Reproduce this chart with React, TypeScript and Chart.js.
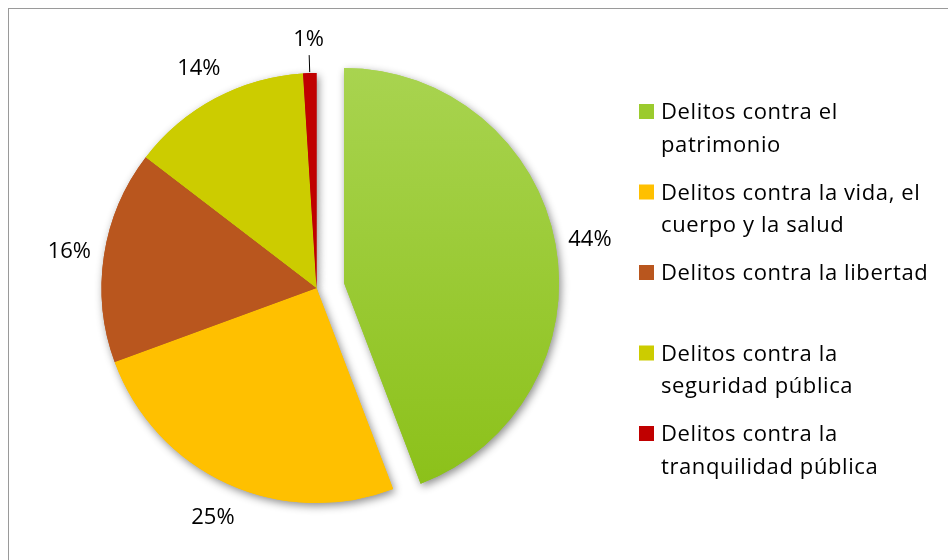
import React, { useEffect, useRef } from "react";
import { Chart, registerables } from "chart.js";

Chart.register(...registerables);

// ---- data ----
const categories: string[][] = [
  ["Delitos contra el", "patrimonio"],
  ["Delitos contra la vida, el", "cuerpo y la salud"],
  ["Delitos contra la libertad"],
  ["Delitos contra la", "seguridad pública"],
  ["Delitos contra la", "tranquilidad pública"],
];
const shares: number[] = [44.2, 25.2, 16.0, 13.6, 1.0];
const sliceColors: string[] = ["#9bcb2e", "#ffc000", "#b9561e", "#cccc00", "#c00000"];
const explodePx: number[] = [28, 0, 0, 0, 0];

const FONT = "22px 'Open Sans', 'Noto Sans', sans-serif";

const total = shares.reduce((a, b) => a + b, 0);

const piePlugin = {
  id: "explodedPie",
  beforeDatasetsDraw(chart: any) {
    const ctx: CanvasRenderingContext2D = chart.ctx;
    const meta = chart.getDatasetMeta(0);
    const drawAll = () => {
      meta.data.forEach((arc: any, i: number) => {
        ctx.save();
        const mid = (arc.startAngle + arc.endAngle) / 2;
        ctx.translate(Math.cos(mid) * explodePx[i], Math.sin(mid) * explodePx[i]);
        arc.draw(ctx);
        ctx.restore();
      });
    };
    // shadow pass
    ctx.save();
    ctx.shadowColor = "rgba(0,0,0,0.45)";
    ctx.shadowBlur = 9;
    ctx.shadowOffsetX = 2;
    ctx.shadowOffsetY = 3;
    drawAll();
    ctx.restore();
    // clean pass
    drawAll();
    return false;
  },
  afterDraw(chart: any) {
    const ctx: CanvasRenderingContext2D = chart.ctx;
    const meta = chart.getDatasetMeta(0);
    ctx.save();
    ctx.font = FONT;
    ctx.fillStyle = "#000";
    ctx.textAlign = "center";
    ctx.textBaseline = "alphabetic";
    meta.data.forEach((arc: any, i: number) => {
      const mid = (arc.startAngle + arc.endAngle) / 2;
      const cx = arc.x + Math.cos(mid) * explodePx[i];
      const cy = arc.y + Math.sin(mid) * explodePx[i];
      const r = arc.outerRadius;
      const d = r + 35;
      const lx = cx + Math.cos(mid) * d;
      const ly = cy + Math.sin(mid) * d;
      const pct = Math.round((shares[i] / total) * 100) + "%";
      ctx.fillText(pct, lx, ly + 8);
      if (shares[i] / total < 0.03) {
        ctx.beginPath();
        ctx.strokeStyle = "#000";
        ctx.lineWidth = 1;
        ctx.moveTo(cx + Math.cos(mid) * (r + 1), cy + Math.sin(mid) * (r + 1));
        ctx.lineTo(cx + Math.cos(mid) * (r + 18), cy + Math.sin(mid) * (r + 18));
        ctx.stroke();
      }
    });
    ctx.restore();

    // legend on the right
    ctx.save();
    ctx.font = FONT;
    ctx.textAlign = "left";
    ctx.textBaseline = "alphabetic";
    try {
      (ctx as any).letterSpacing = "0.6px";
    } catch (e) {}
    const boxX = 630;
    const textX = 652;
    const firstBaseline = 110;
    const pitch = 80.5;
    const lineH = 32.5;
    categories.forEach((lines, i) => {
      const base = firstBaseline + i * pitch;
      const bg = meta.data[i] ? meta.data[i].options.backgroundColor : sliceColors[i];
      ctx.fillStyle = i === 0 ? sliceColors[0] : bg;
      ctx.fillRect(boxX, base - 15, 15, 15);
      ctx.fillStyle = "#000";
      lines.forEach((ln, j) => {
        ctx.fillText(ln, textX, base + j * lineH);
      });
    });
    ctx.restore();
  },
};

export default function App() {
  const ref = useRef<HTMLCanvasElement | null>(null);
  useEffect(() => {
    if (!ref.current) return;
    const chart = new Chart(ref.current, {
      type: "pie",
      data: {
        labels: categories.map((c) => c.join(" ")),
        datasets: [
          {
            data: shares,
            backgroundColor: (c: any) => {
              const ch = c.chart;
              const area = ch.chartArea;
              if (c.dataIndex === 0 && area) {
                const cy = (area.top + area.bottom) / 2;
                const g = ch.ctx.createLinearGradient(0, cy - 225, 0, cy + 200);
                g.addColorStop(0, "#a9d451");
                g.addColorStop(1, "#8cc11a");
                return g;
              }
              return sliceColors[c.dataIndex];
            },
            borderWidth: 0,
            hoverOffset: 0,
          },
        ],
      },
      options: {
        responsive: false,
        animation: false,
        radius: 215,
        layout: { padding: { left: 0, right: 324, top: 7, bottom: 0 } },
        plugins: {
          legend: { display: false },
          tooltip: { enabled: false },
        },
        events: [],
      } as any,
      plugins: [piePlugin],
    });
    return () => chart.destroy();
  }, []);

  return (
    <div
      style={{
        position: "fixed",
        left: 8,
        top: 8,
        width: 980,
        height: 620,
        border: "1px solid #9a9a9a",
        background: "#fff",
      }}
    >
      <canvas ref={ref} width={939} height={551} style={{ display: "block" }} />
    </div>
  );
}
